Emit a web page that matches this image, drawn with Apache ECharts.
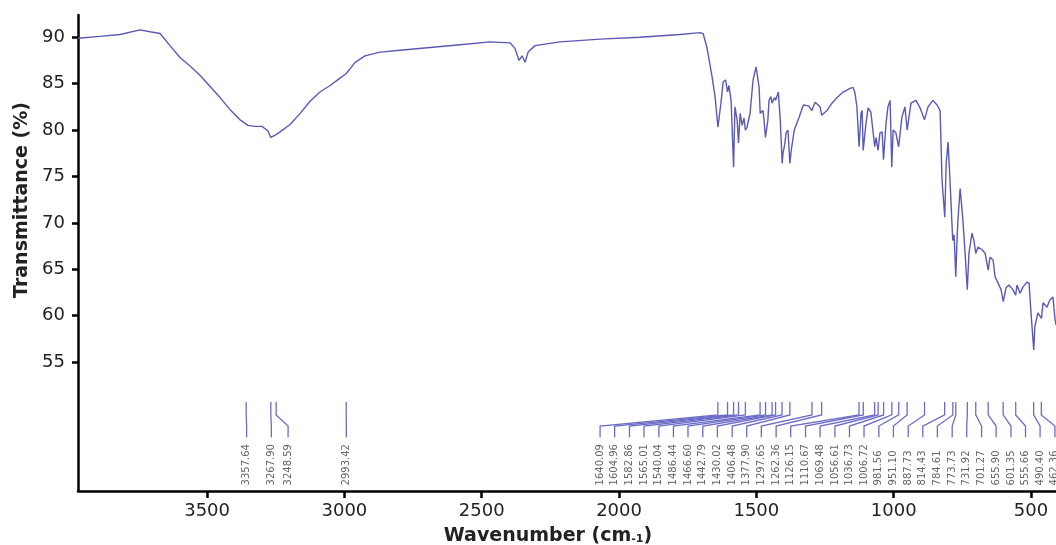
<!DOCTYPE html>
<html>
<head>
<meta charset="utf-8">
<script src="https://cdn.jsdelivr.net/npm/echarts@6/dist/echarts.min.js"></script>
<style>
  html, body { margin: 0; padding: 0; background: #fff; }
  #chart { width: 1056px; height: 545px; }
</style>
</head>
<body>
<div id="chart"></div>
<script>
// FTIR spectrum, wavenumber (cm-1) vs transmittance (%)
var wavenumber = [
    3970, 3890, 3817, 3744, 3708, 3671, 3635, 3598, 3562, 3526, 3489, 3453, 3416, 3380, 3351, 3325,
    3300, 3278, 3268, 3249, 3234, 3198, 3161, 3125, 3089, 3052, 3016, 2993, 2961, 2925, 2870, 2797,
    2688, 2579, 2470, 2397, 2379, 2364, 2353, 2342, 2331, 2306, 2215, 2069, 1924, 1778, 1705, 1694,
    1680, 1661, 1650, 1640, 1629, 1621, 1612, 1605, 1600, 1592, 1583, 1578, 1570, 1565, 1559, 1552,
    1545, 1540, 1534, 1523, 1512, 1501, 1498, 1490, 1486, 1476, 1472, 1467, 1458, 1454, 1447, 1443,
    1434, 1430, 1420, 1413, 1406, 1403, 1396, 1392, 1385, 1378, 1373, 1362, 1344, 1329, 1310, 1298,
    1286, 1279, 1268, 1262, 1243, 1225, 1206, 1184, 1159, 1148, 1141, 1134, 1126, 1119, 1115, 1111,
    1101, 1093, 1083, 1069, 1064, 1057, 1050, 1042, 1037, 1028, 1021, 1013, 1007, 1002, 992, 982,
    970, 959, 951, 937, 919, 904, 888, 875, 857, 842, 831, 824, 814, 809, 802, 795,
    785, 780, 774, 769, 766, 758, 748, 740, 732, 726, 715, 708, 701, 693, 678, 667,
    656, 649, 638, 631, 620, 609, 601, 591, 580, 566, 556, 551, 540, 529, 515, 507,
    500, 490, 486, 475, 462, 456, 442, 431, 420, 413, 409
];
var transmittance = [
    89.9, 90.1, 90.3, 90.8, 90.6, 90.4, 89.1, 87.8, 86.9, 85.9, 84.7, 83.5, 82.2, 81.1, 80.5, 80.4,
    80.4, 79.9, 79.2, 79.5, 79.8, 80.6, 81.8, 83.1, 84.1, 84.8, 85.6, 86.1, 87.3, 88.0, 88.4, 88.6,
    88.9, 89.2, 89.5, 89.4, 88.8, 87.5, 88.0, 87.3, 88.4, 89.1, 89.5, 89.8, 90.0, 90.3, 90.5, 90.4,
    88.9, 85.7, 83.5, 80.3, 82.9, 85.2, 85.4, 84.1, 84.8, 83.2, 76.0, 82.5, 81.1, 78.6, 81.8, 80.5,
    81.3, 80.0, 80.3, 81.8, 85.4, 86.8, 87.0, 84.6, 81.8, 82.1, 81.1, 79.2, 81.1, 83.2, 83.6, 82.9,
    83.5, 83.2, 84.1, 81.1, 76.4, 77.5, 78.6, 79.7, 80.0, 76.4, 77.8, 80.0, 81.4, 82.7, 82.6, 82.1,
    83.0, 83.2, 82.5, 81.6, 82.1, 82.9, 83.5, 84.1, 84.5, 84.6, 84.0, 82.5, 78.2, 81.8, 82.1, 77.8,
    80.7, 82.4, 81.9, 78.2, 79.2, 77.8, 79.7, 79.8, 76.8, 80.7, 82.5, 83.2, 76.0, 80.0, 79.7, 78.2,
    81.4, 82.5, 80.0, 82.9, 83.2, 82.4, 81.1, 82.5, 83.2, 82.7, 82.1, 74.6, 70.6, 76.4, 78.7, 74.6,
    68.1, 68.7, 64.2, 68.5, 70.3, 73.7, 70.3, 66.7, 62.8, 66.7, 68.9, 68.1, 66.7, 67.4, 67.1, 66.7,
    64.9, 66.3, 66.0, 64.2, 63.5, 62.8, 61.5, 63.0, 63.3, 62.8, 62.2, 63.3, 62.4, 63.1, 63.6, 63.5,
    60.3, 56.3, 58.8, 60.3, 59.7, 61.4, 60.9, 61.7, 62.0, 59.7, 59.0
];

// picked peaks and where their labels sit along the axis
var peaks = [
    3357.64, 3267.90, 3248.59, 2993.42,
    1640.09, 1604.96, 1582.86, 1565.01, 1540.04, 1486.44, 1466.60, 1442.79, 1430.02, 1406.48, 1377.90,
    1297.65, 1262.36, 1126.15, 1110.67, 1069.48, 1056.61, 1036.73, 1006.72, 981.56, 951.10, 887.73,
    814.43, 784.61, 773.73, 731.92, 701.27, 655.90, 601.35, 555.66, 490.40, 462.36
];
var labelPos = [
    3356, 3266, 3205, 2993,
    2069, 2016, 1962, 1909, 1855, 1802, 1749, 1695, 1642, 1588, 1535,
    1482, 1428, 1375, 1321, 1268, 1214, 1161, 1108, 1054, 1001, 947,
    894, 841, 787, 734, 680, 627, 573, 520, 467, 413
];
var yTicks = [55, 60, 65, 70, 75, 80, 85, 90];
var xTicks = [500, 1000, 1500, 2000, 2500, 3000, 3500];

var spectrum = [];
for (var i = 0; i < wavenumber.length; i++) {
    spectrum.push([wavenumber[i], transmittance[i]]);
}
var peakData = [];
for (var j = 0; j < peaks.length; j++) {
    peakData.push([peaks[j], labelPos[j]]);
}

function renderPeak(params, api) {
    var peak = api.value(0);
    var lab = api.value(1);
    var p0 = api.coord([peak, 50.7]);
    var p1 = api.coord([peak, 49.3]);
    var p2 = api.coord([lab, 48.1]);
    var p3 = api.coord([lab, 46.9]);
    var pt = api.coord([lab, 41.7]);
    return {
        type: 'group',
        children: [
            {
                type: 'polyline',
                shape: { points: [p0, p1, p2, p3] },
                style: { stroke: '#6c6cc8', lineWidth: 1.3, fill: null }
            },
            {
                type: 'text',
                x: pt[0],
                y: pt[1],
                rotation: Math.PI / 2,
                style: {
                    text: peaks[params.dataIndex].toFixed(2),
                    fill: '#666',
                    font: '10px "DejaVu Sans"',
                    align: 'left',
                    verticalAlign: 'middle'
                }
            }
        ]
    };
}

function plain(v) {
    return String(v);
}

var myChart = echarts.init(document.getElementById('chart'));
var option = {
    animation: false,
    backgroundColor: '#fff',
    grid: { left: 78, right: 0, top: 15, bottom: 54 },
    xAxis: {
        type: 'value',
        inverse: true,
        min: 409,
        max: 3970,
        axisLine: { lineStyle: { color: '#000', width: 2.5 } },
        axisTick: { customValues: xTicks, length: 7, lineStyle: { color: '#000', width: 2.5 } },
        axisLabel: { customValues: xTicks, formatter: plain, margin: 11, color: '#222', fontSize: 18, fontFamily: 'DejaVu Sans' },
        splitLine: { show: false }
    },
    yAxis: {
        type: 'value',
        min: 41.1,
        max: 92.4,
        axisLine: { show: true, lineStyle: { color: '#000', width: 2.5 } },
        axisTick: { show: true, customValues: yTicks, length: 6, lineStyle: { color: '#000', width: 2.5 } },
        axisLabel: { customValues: yTicks, formatter: plain, margin: 13, color: '#222', fontSize: 18, fontFamily: 'DejaVu Sans' },
        splitLine: { show: false }
    },
    graphic: [
        {
            type: 'text',
            x: 22,
            y: 200,
            rotation: Math.PI / 2,
            style: {
                text: 'Transmittance (%)',
                font: 'bold 19px "DejaVu Sans"',
                fill: '#222',
                align: 'center',
                verticalAlign: 'middle'
            }
        },
        {
            type: 'text',
            x: 548,
            y: 536,
            style: {
                text: 'Wavenumber (cm{s|-1})',
                font: 'bold 19px "DejaVu Sans"',
                fill: '#222',
                align: 'center',
                verticalAlign: 'middle',
                rich: {
                    s: { fontSize: 11, fontWeight: 'bold', fontFamily: 'DejaVu Sans', fill: '#222', padding: [6, 0, 0, 0] }
                }
            }
        }
    ],
    series: [
        {
            name: 'spectrum',
            type: 'line',
            data: spectrum,
            showSymbol: false,
            smooth: false,
            lineStyle: { color: '#5a5ab6', width: 1.4 }
        },
        {
            name: 'peaks',
            type: 'custom',
            data: peakData,
            renderItem: renderPeak,
            clip: false
        }
    ]
};
myChart.setOption(option);
</script>
</body>
</html>
